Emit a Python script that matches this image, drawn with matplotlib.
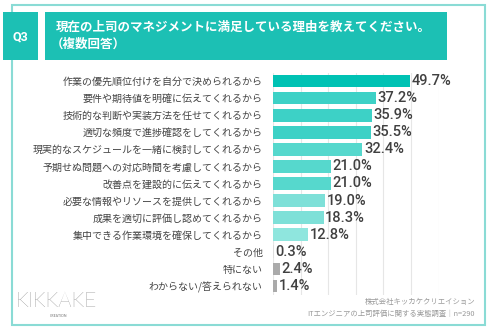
import matplotlib
matplotlib.use('Agg')
import matplotlib.pyplot as plt
from matplotlib.patches import Rectangle

plt.rcParams['font.family'] = ['Noto Sans CJK JP', 'DejaVu Sans']

categories = [
    '作業の優先順位付けを自分で決められるから',
    '要件や期待値を明確に伝えてくれるから',
    '技術的な判断や実装方法を任せてくれるから',
    '適切な頻度で進捗確認をしてくれるから',
    '現実的なスケジュールを一緒に検討してくれるから',
    '予期せぬ問題への対応時間を考慮してくれるから',
    '改善点を建設的に伝えてくれるから',
    '必要な情報やリソースを提供してくれるから',
    '成果を適切に評価し認めてくれるから',
    '集中できる作業環境を確保してくれるから',
    'その他',
    '特にない',
    'わからない/答えられない',
]
values = [49.7, 37.2, 35.9, 35.5, 32.4, 21.0, 21.0, 19.0, 18.3, 12.8, 0.3, 2.4, 1.4]
bar_colors = ['#00c2b4', '#3dd1c6', '#3dd1c6', '#3dd1c6', '#56d8cd', '#56d8cd', '#56d8cd',
              '#7ee0d8', '#7ee0d8', '#8fe6de', '#dddddd', '#aaaaaa', '#aaaaaa']

W, H = 490, 329
fig = plt.figure(figsize=(W / 100, H / 100), dpi=100)


def fx(px):
    return px / W


def fy(py):
    return 1 - py / H


# 外枠
fig.patches.append(Rectangle((fx(12), fy(325)), fx(473), 320 / H, transform=fig.transFigure,
                             fill=False, edgecolor='#8adbd5', linewidth=1.5))
# タイトル
fig.patches.append(Rectangle((fx(3), fy(60)), fx(35), 48 / H, transform=fig.transFigure,
                             facecolor='#1cc0b4', edgecolor='none'))
fig.patches.append(Rectangle((fx(45), fy(60)), fx(402), 48 / H, transform=fig.transFigure,
                             facecolor='#1cc0b4', edgecolor='none'))
fig.text(fx(20.5), fy(37), 'Q3', color='white', fontsize=9, fontweight='bold',
         ha='center', va='center', family=['Roboto', 'DejaVu Sans'])
fig.text(fx(56), fy(27), '現在の上司のマネジメントに満足している理由を教えてください。',
         color='white', fontsize=9, fontweight='bold', ha='left', va='center')
fig.text(fx(51), fy(44), '（複数回答）', color='white', fontsize=9, fontweight='bold',
         ha='left', va='center')

ax = fig.add_axes([fx(273), fy(294.5), fx(165.6), 222 / H])
y = range(len(categories))
ax.barh(y, values, height=0.74, color=bar_colors, zorder=2)
ax.set_xlim(0, 60)
ax.set_ylim(len(categories) - 0.5, -0.5)
ax.set_xticks(range(0, 61, 10))
ax.xaxis.grid(True, color='#e6e6e6', linewidth=0.8, zorder=0)
ax.tick_params(left=False, bottom=False, labelbottom=False)
ax.set_yticks(list(y))
ax.set_yticklabels(categories, fontsize=7.2, color='#444444')
ax.tick_params(axis='y', pad=4)
for s in ax.spines.values():
    s.set_visible(False)

for i, v in enumerate(values):
    ax.text(v + 0.6, i, f'{v:.1f}%', va='center', ha='left', fontsize=10.5,
            color='#404040', fontweight='medium', family=['Roboto', 'DejaVu Sans'])

# 出典
fig.text(fx(475), fy(302), '株式会社キッカケクリエイション', fontsize=5.3,
         color='#999999', ha='right', va='center')
fig.text(fx(475), fy(314), 'ITエンジニアの上司評価に関する実態調査｜n=290', fontsize=5.3,
         color='#999999', ha='right', va='center')

# ロゴ
fig.text(fx(16), fy(301), 'KIKKAKE', fontsize=15, color='#505050', ha='left', va='center',
         family=['Lato', 'DejaVu Sans'], fontweight='light')
fig.text(fx(50), fy(316), 'CREATION', fontsize=2.5, color='#777777', ha='left', va='center',
         family=['Lato', 'DejaVu Sans'])

fig.savefig('out.png', dpi=100)
